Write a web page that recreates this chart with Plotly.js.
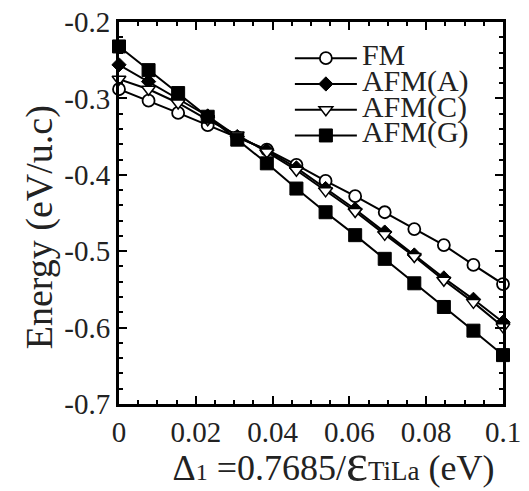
<!DOCTYPE html>
<html>
<head>
<meta charset="utf-8">
<script src="https://cdn.plot.ly/plotly-3.0.1.min.js"></script>
<style>html,body{margin:0;padding:0;background:#fff;}</style>
</head>
<body>
<div id="chart" style="width:529px;height:491px;"></div>
<script>
const delta = [0, 0.0077, 0.0154, 0.0231, 0.0308, 0.0385, 0.0462, 0.0538, 0.0615, 0.0692, 0.0769, 0.0846, 0.0923, 0.1];
const energyFM   = [-0.288, -0.303, -0.319, -0.335, -0.351, -0.367, -0.387, -0.408, -0.428, -0.449, -0.471, -0.492, -0.518, -0.543];
const energyAFMA = [-0.256, -0.278, -0.300, -0.323, -0.350, -0.368, -0.391, -0.418, -0.445, -0.475, -0.505, -0.535, -0.563, -0.593];
const energyAFMC = [-0.275, -0.288, -0.306, -0.328, -0.348, -0.370, -0.394, -0.421, -0.448, -0.478, -0.507, -0.538, -0.567, -0.599];
const energyAFMG = [-0.232, -0.263, -0.293, -0.324, -0.354, -0.385, -0.418, -0.449, -0.479, -0.510, -0.542, -0.573, -0.604, -0.636];
const seriesNames = ['FM', 'AFM(A)', 'AFM(C)', 'AFM(G)'];
const xTickVals = [0, 0.02, 0.04, 0.06, 0.08, 0.1];
const xTickText = ['0', '0.02', '0.04', '0.06', '0.08', '0.1'];
const yTickVals = [-0.7, -0.6, -0.5, -0.4, -0.3, -0.2];
const yTickText = ['-0.7', '-0.6', '-0.5', '-0.4', '-0.3', '-0.2'];

const FONT = 'Liberation Serif, serif';
function nm(s){ return '<span style="font-size:30px">' + s + '</span>'; }

const traces = [
  {y: energyFM, name: nm(seriesNames[0]), marker: {symbol: 'circle', size: 12, color: '#fff', line: {color: '#000', width: 1.8}}},
  {y: energyAFMA, name: nm(seriesNames[1]), marker: {symbol: 'diamond', size: 11, color: '#000', line: {color: '#000', width: 1}}},
  {y: energyAFMC, name: nm(seriesNames[2]), marker: {symbol: 'triangle-down', size: 12, color: '#fff', line: {color: '#000', width: 1.5}}},
  {y: energyAFMG, name: nm(seriesNames[3]), marker: {symbol: 'square', size: 13, color: '#000', line: {color: '#000', width: 1}}}
].map(t => Object.assign({x: delta, type: 'scatter', mode: 'lines+markers', line: {color: '#000', width: 2}, cliponaxis: false}, t));

const axCommon = {
  showline: true, linecolor: '#000', linewidth: 3, mirror: 'ticks',
  ticks: 'inside', ticklen: 8, tickwidth: 2, tickcolor: '#000',
  showgrid: false, zeroline: false,
  tickfont: {family: FONT, size: 29, color: '#222'}
};

const layout = {
  width: 529, height: 491,
  margin: {l: 119, r: 26, t: 22, b: 87},
  paper_bgcolor: '#fff', plot_bgcolor: '#fff',
  font: {family: FONT, color: '#222'},
  showlegend: true,
  legend: {
    x: 0.445, y: 0.952, xanchor: 'left', yanchor: 'top',
    bgcolor: 'rgba(0,0,0,0)', borderwidth: 0,
    font: {family: FONT, size: 17.5, color: '#222'},
    itemwidth: 62, tracegroupgap: 0
  },
  xaxis: Object.assign({}, axCommon, {
    range: [0, 0.1], tickmode: 'array', tickvals: xTickVals, ticktext: xTickText,
    minor: {dtick: 0.005, ticks: 'inside', ticklen: 4, tickwidth: 2, tickcolor: '#000'},
    title: {text: '&nbsp;&nbsp;&nbsp;&nbsp;&nbsp;Δ<span style="font-size:24px">1</span> =0.7685/<span style="font-size:52px">ε</span><span style="font-size:27px">TiLa</span> (eV)', font: {family: FONT, size: 36, color: '#222'}, standoff: 9}
  }),
  yaxis: Object.assign({}, axCommon, {
    range: [-0.7, -0.2], tickmode: 'array', tickvals: yTickVals, ticktext: yTickText,
    minor: {dtick: 0.02, ticks: 'inside', ticklen: 4, tickwidth: 2, tickcolor: '#000'},
    title: {text: 'Energy (eV/u.c)&nbsp;&nbsp;&nbsp;', font: {family: FONT, size: 38, color: '#222'}, standoff: 0}
  })
};

Plotly.newPlot('chart', traces, layout, {displayModeBar: false, staticPlot: true});
</script>
</body>
</html>
